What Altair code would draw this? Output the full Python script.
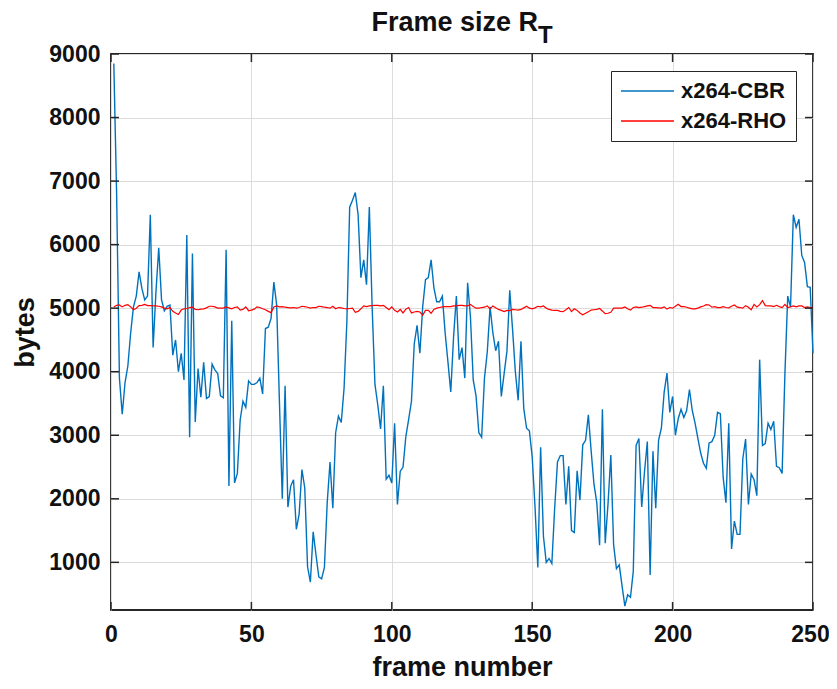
import altair as alt
import pandas as pd

frames = list(range(1, 251))

cbr = [8850, 6800, 3900, 3330, 3830, 4090, 4610, 5020, 5190, 5570,
       5310, 5130, 5190, 6470, 4380, 5250, 5950, 5130, 4960, 5030,
       5050, 4260, 4500, 4000, 4290, 3870, 6150, 2970, 5860, 3210,
       4050, 3600, 4150, 3580, 3610, 4120, 4030, 3970, 3620, 3590,
       5920, 2200, 4800, 2250, 2400, 3240, 3535, 3440, 3855, 3800,
       3800, 3830, 3900, 3650, 4680, 4700, 4840, 5410, 5050, 3500,
       2000, 3780, 1870, 2200, 2300, 1520, 1760, 2460, 2170, 930,
       690, 1480, 1120, 770, 740, 920, 1940, 2580, 1850, 3040,
       3300, 3200, 3740, 4790, 6590, 6700, 6820, 6470, 5480, 5760,
       5370, 6590, 5020, 3800, 3480, 3100, 3780, 2310, 2370, 2250,
       3190, 1910, 2430, 2500, 2980, 3250, 3535, 4440, 4730, 4290,
       5020, 5450, 5480, 5760, 5320, 5100, 5100, 5190, 4610, 4150,
       3680, 4550, 5190, 4190, 4380, 3900, 5400, 4870, 3870, 3620,
       3040, 2970, 3900, 4310, 5020, 4610, 4330, 4480, 3610, 3970,
       4320, 5280, 4670, 4000, 3550, 4480, 3420, 3110, 3070, 2660,
       1880, 920, 2810, 1410, 1000, 1060, 980, 1850, 2580, 2680,
       2680, 1910, 2510, 1500, 1470, 2440, 1980, 2850, 2920, 3320,
       2750, 2230, 1940, 1270, 3410, 1300, 1920, 2690, 1270, 900,
       960, 630, 310, 490, 450, 860, 2840, 2950, 1870, 2430,
       2900, 800, 2750, 1850, 2920, 3110, 3680, 3980, 3360, 3610,
       3000, 3260, 3410, 3280, 3390, 3720, 3390, 3190, 2950, 2720,
       2560, 2480, 2880, 2900, 3000, 3360, 3340, 2340, 1940, 3190,
       1210, 1650, 1440, 1440, 2630, 2940, 1910, 2390, 2300, 2050,
       4190, 2840, 2870, 3190, 3090, 3220, 2510, 2490, 2400, 3970,
       5190, 5020, 6470, 6270, 6400, 5830, 5720, 5340, 5330, 4290]

rho = [5020, 5045, 5050, 5020, 5045, 5055, 5020, 4975, 5000, 5040,
       5045, 5060, 5040, 5040, 5035, 5035, 5030, 5020, 5000, 4990,
       5010, 4950, 4925, 4900, 4970, 4990, 4995, 5010, 5015, 4980,
       4975, 4985, 4990, 5005, 5030, 5030, 5020, 5000, 5000, 5000,
       5020, 5005, 4990, 5010, 5020, 4970, 4980, 5020, 4960, 4970,
       4985, 5020, 5010, 4990, 4975, 4950, 4930, 5020, 5035, 5020,
       5025, 5015, 5010, 5005, 5010, 5000, 5010, 5030, 5025, 5015,
       5000, 5010, 5010, 5030, 5025, 5015, 5010, 5000, 5030, 4990,
       5010, 5005, 4995, 4990, 4995, 5000, 4935, 4950, 4990, 5035,
       5025, 5035, 5040, 5045, 5045, 5035, 5045, 5010, 4975, 5020,
       4965, 4940, 4980, 4925, 4985, 5010, 4925, 4940, 4950, 4940,
       4890, 4965, 4965, 4920, 4980, 5000, 5010, 5020, 5025, 5025,
       5025, 5035, 5035, 5045, 5045, 5035, 5035, 5060, 5025, 5000,
       5000, 5010, 5015, 5035, 4990, 5035, 5005, 4980, 4965, 4945,
       4965, 4960, 4980, 4975, 4970, 4980, 5005, 5030, 5000, 4990,
       5005, 5030, 5020, 5035, 5000, 4980, 4970, 4965, 4965, 4950,
       4945, 4975, 5010, 4945, 4990, 4965, 4925, 4895, 4920, 4945,
       4970, 4975, 4980, 4995, 4955, 4915, 4920, 4935, 5000, 5000,
       5000, 5000, 5020, 4990, 4970, 5010, 5020, 5010, 5015, 5025,
       5035, 5045, 5010, 5010, 5005, 5000, 5020, 4985, 5010, 5000,
       5030, 5060, 5025, 5025, 5015, 5000, 4990, 4990, 5000, 5020,
       5035, 5055, 5050, 5015, 5025, 5010, 5010, 5025, 5010, 5005,
       5030, 5050, 5015, 5010, 5000, 5040, 5015, 4975, 5060, 5020,
       5055, 5120, 5040, 5035, 5035, 5025, 5045, 5025, 5010, 5060,
       5010, 5020, 5035, 5020, 5035, 5035, 5010, 5020, 5010, 5000]

series_names = ["x264-CBR", "x264-RHO"]
series_colors = ["#0072BD", "#FF0000"]
x_ticks = [0, 50, 100, 150, 200, 250]
y_ticks = [1000, 2000, 3000, 4000, 5000, 6000, 7000, 8000, 9000]

FONT = "Liberation Sans"
TXT = "#111111"
W, H = 702, 556
TL = 8  # inward tick length

df_cbr = pd.DataFrame({"frame": frames, "bytes": cbr, "series": series_names[0]})
df_rho = pd.DataFrame({"frame": frames, "bytes": rho, "series": series_names[1]})
df_xt = pd.DataFrame({"frame": x_ticks})
df_yt = pd.DataFrame({"bytes": y_ticks})

xscale = alt.Scale(domain=[0, 250], nice=False, zero=False)
yscale = alt.Scale(domain=[250, 9000], nice=False, zero=False)
color = alt.Color("series:N",
                  scale=alt.Scale(domain=series_names, range=series_colors),
                  legend=alt.Legend(title=None, orient="none", legendX=500, legendY=17,
                                    symbolType="M-1,0H4.3", symbolSize=400,
                                    symbolStrokeWidth=1.5, labelFont=FONT,
                                    labelFontSize=22, labelFontWeight="bold",
                                    labelColor=TXT, labelOffset=39,
                                    padding=9, rowPadding=8,
                                    strokeColor="#262626", fillColor="white",
                                    cornerRadius=0))

xaxis = alt.Axis(values=x_ticks, title="frame number", grid=True, ticks=False, tickSize=0,
                 domain=False, labelPadding=13, labelFontSize=23, labelFont=FONT,
                 labelFontWeight="bold", labelColor=TXT, labelFlush=False,
                 labelOffset={"condition": {"test": "datum.value == 250", "value": -3},
                              "value": 0},
                 format="d",
                 titleFont=FONT, titleFontSize=27, titleFontWeight="bold",
                 titleColor=TXT, titleY=65, titleBaseline="alphabetic")
yaxis = alt.Axis(values=y_ticks, title="bytes", grid=True, ticks=False, tickSize=0,
                 domain=False, labelPadding=11, labelFontSize=23, labelFont=FONT,
                 labelFontWeight="bold", labelColor=TXT, labelFlush=False,
                 format="d",
                 titleFont=FONT, titleFontSize=27, titleFontWeight="bold",
                 titleColor=TXT, titleX=-78, titleY=H / 2, titleAngle=270,
                 titleAlign="center", titleBaseline="alphabetic")

X = alt.X("frame:Q", scale=xscale, axis=xaxis)
Y = alt.Y("bytes:Q", scale=yscale, axis=yaxis)

blue = alt.Chart(df_cbr).mark_line(strokeWidth=1.4).encode(x=X, y=Y, color=color)
red = alt.Chart(df_rho).mark_line(strokeWidth=1.2).encode(x=X, y=Y, color=color)

tick_style = dict(color="#262626", strokeWidth=1.5)
left_t = alt.Chart(df_yt).mark_rule(**tick_style).encode(
    y=Y, x=alt.value(0), x2=alt.value(TL))
right_t = alt.Chart(df_yt).mark_rule(**tick_style).encode(
    y=Y, x=alt.value(W - TL), x2=alt.value(W))
bottom_t = alt.Chart(df_xt).mark_rule(**tick_style).encode(
    x=X, y=alt.value(H - TL), y2=alt.value(H))
top_t = alt.Chart(df_xt).mark_rule(**tick_style).encode(
    x=X, y=alt.value(0), y2=alt.value(TL))

one = pd.DataFrame({"a": [0]})
title_main = alt.Chart(one).mark_text(align="right", baseline="alphabetic", font=FONT,
                                      fontSize=27, fontWeight="bold", color=TXT).encode(
    x=alt.value(427), y=alt.value(-23), text=alt.value("Frame size R"))
title_sub = alt.Chart(one).mark_text(align="left", baseline="alphabetic", font=FONT,
                                     fontSize=24, fontWeight="bold", color=TXT).encode(
    x=alt.value(427), y=alt.value(-11), text=alt.value("T"))

chart = alt.layer(blue, red, left_t, right_t, bottom_t, top_t, title_main, title_sub).properties(
    width=W, height=H,
    autosize=alt.AutoSizeParams(type="none"),
    padding={"left": 103, "top": 46, "right": 16, "bottom": 71},
).configure_view(stroke="#262626", strokeWidth=1.8).configure_axis(
    gridColor="#DCDCDC", gridWidth=1, gridOpacity=1
)

chart.save("out.html", embed_options={"renderer": "svg", "actions": False})
